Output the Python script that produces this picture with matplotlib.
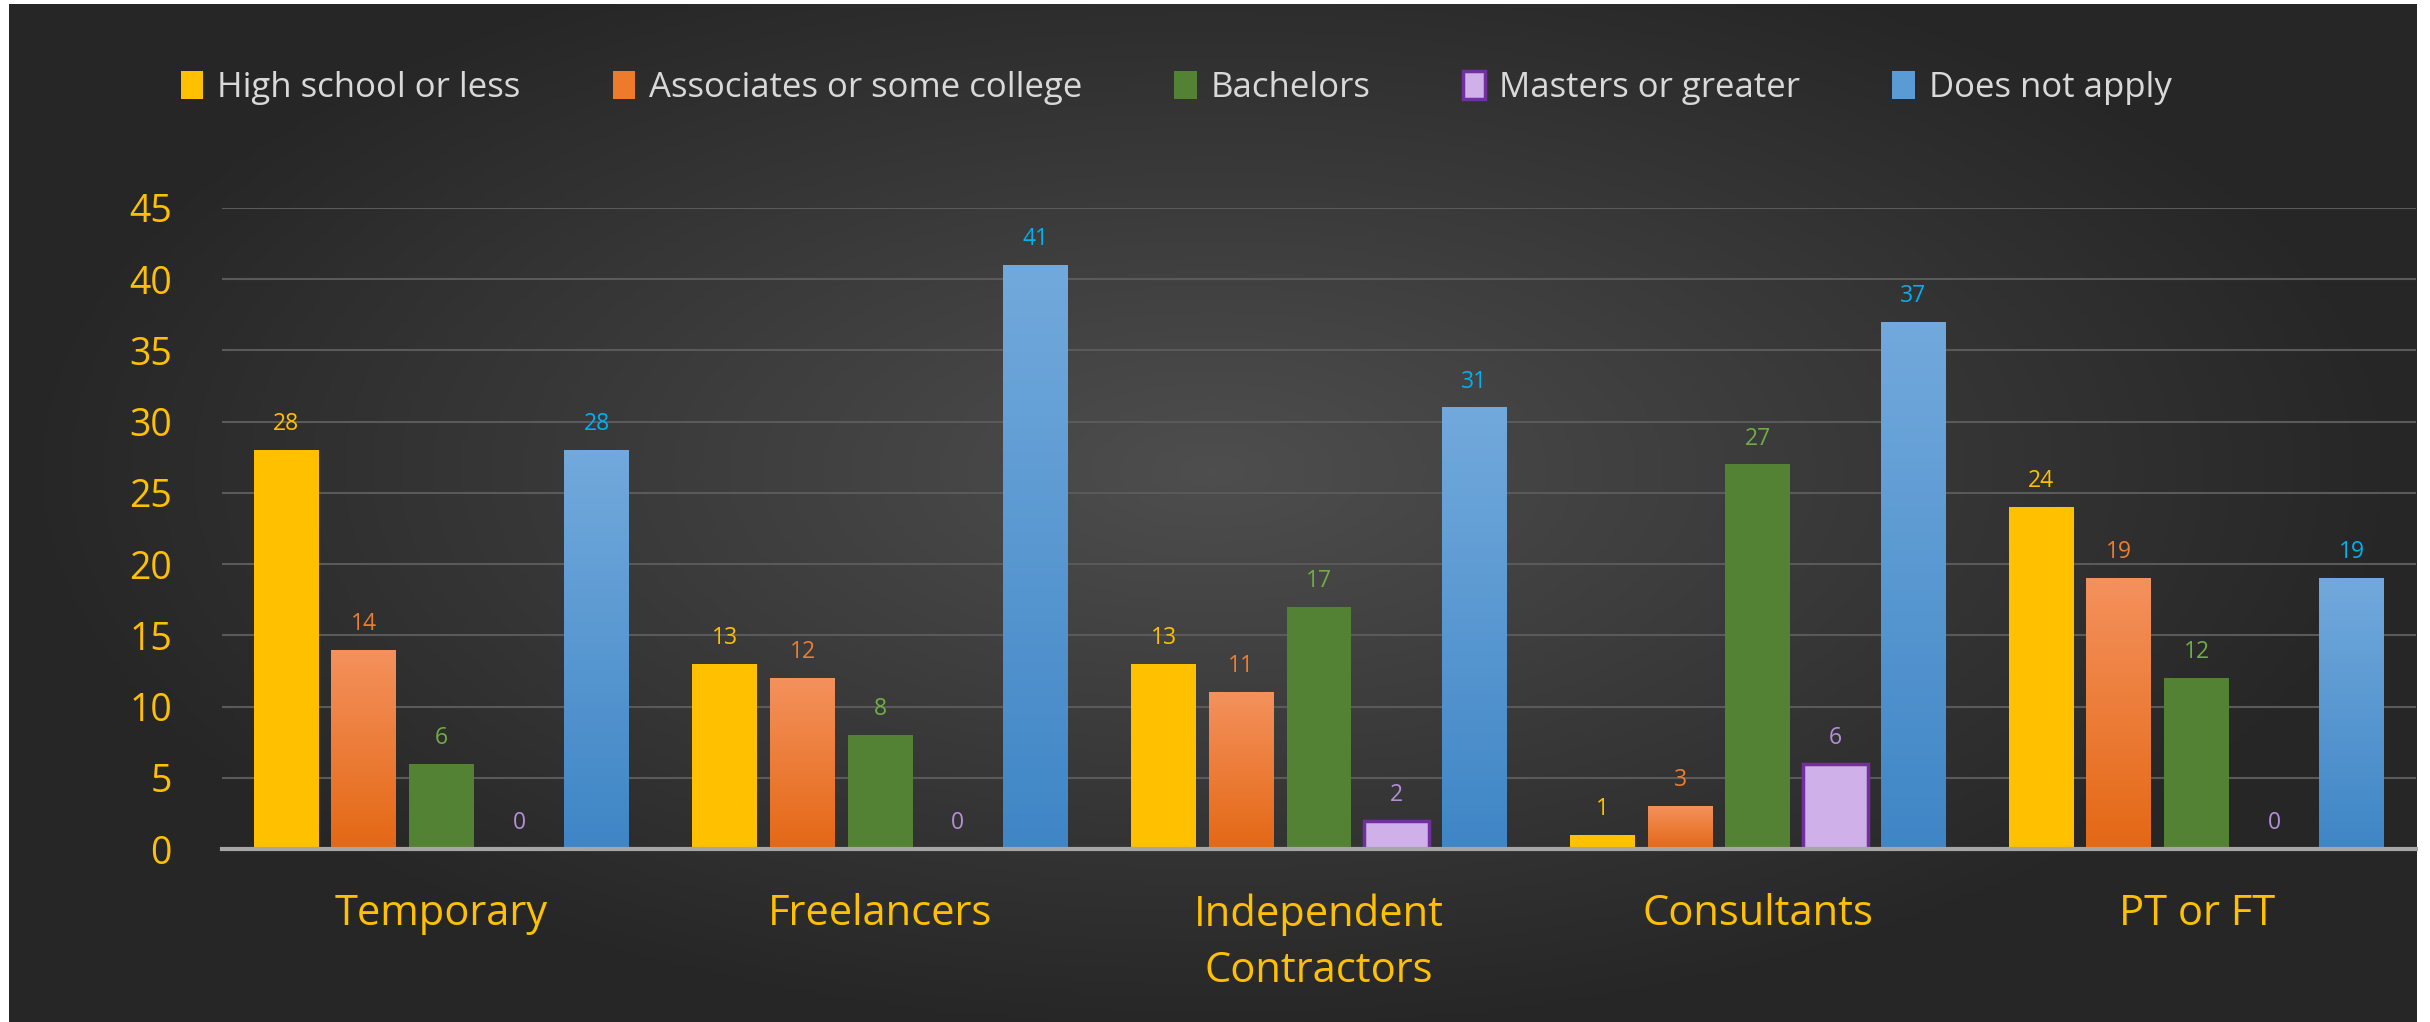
import matplotlib
matplotlib.use('Agg')
import matplotlib.pyplot as plt
import numpy as np
from matplotlib.colors import LinearSegmentedColormap

# данные
categories = ['Temporary', 'Freelancers', 'Independent\nContractors', 'Consultants', 'PT or FT']
series_names = ['High school or less', 'Associates or some college', 'Bachelors',
                'Masters or greater', 'Does not apply']
high_school = [28, 13, 13, 1, 24]
associates = [14, 12, 11, 3, 19]
bachelors = [6, 8, 17, 27, 12]
masters = [0, 0, 2, 6, 0]
not_apply = [28, 41, 31, 37, 19]
y_ticks = [0, 5, 10, 15, 20, 25, 30, 35, 40, 45]

series = [high_school, associates, bachelors, masters, not_apply]
fills = ['#FFC000', '#EE7A2C', '#548235', '#D0B0E8', '#5B9BD5']
edges = ['none', 'none', 'none', '#7030A0', 'none']
label_colors = ['#FFC000', '#ED7D31', '#70AD47', '#B48FD8', '#00B0F0']
# градиенты (верх -> низ)
gradients = {1: ('#F4915C', '#E46815'), 4: ('#72A9DC', '#3F86C6')}

plt.rcParams['font.family'] = ['Open Sans', 'DejaVu Sans']

fig = plt.figure(figsize=(24.3, 10.22), dpi=100)
fig.patch.set_facecolor('white')

# фон - тёмный радиальный градиент
bg = fig.add_axes([9 / 2430, -0.02, (2417 - 9) / 2430, 0.02 + (1022 - 4) / 1022])
bg.set_axis_off()
gx, gy = np.meshgrid(np.linspace(-1, 1, 600), np.linspace(-1, 1, 300))
r = np.sqrt((gx / 1.0) ** 2 + ((gy + 0.1) / 1.1) ** 2)
r = np.clip(r, 0, 1)
bg_cmap = LinearSegmentedColormap.from_list('bg', ['#4E4E4E', '#3A3A3A', '#262626'])
bg.imshow(r, cmap=bg_cmap, aspect='auto', extent=[0, 1, 0, 1], vmin=0, vmax=1)
bg.set_xlim(0, 1)
bg.set_ylim(0, 1)

ax = fig.add_axes([222 / 2430, 1 - 849 / 1022, (2416 - 222) / 2430, (849 - 208) / 1022])
ax.patch.set_alpha(0)

x = np.arange(len(categories))
pitch = 0.177
width = 0.148
offsets = (np.arange(len(series)) - 2) * pitch

for i, vals in enumerate(series):
    bars = ax.bar(x + offsets[i], vals, width, color=fills[i], edgecolor=edges[i],
                  linewidth=2.5 if edges[i] != 'none' else 0, label=series_names[i], zorder=3)
    if i in gradients:
        cmap = LinearSegmentedColormap.from_list('g%d' % i, [gradients[i][1], gradients[i][0]])
        for b in bars:
            h = b.get_height()
            if h <= 0:
                continue
            x0 = b.get_x()
            im = ax.imshow(np.linspace(0, 1, 100).reshape(-1, 1), cmap=cmap, origin='lower',
                           aspect='auto', extent=[x0, x0 + b.get_width(), 0, h], zorder=3.5)
            im.set_clip_path(b)
    for b, v in zip(bars, vals):
        ax.annotate(str(v), (b.get_x() + b.get_width() / 2, v), xytext=(0, 10),
                    textcoords='offset points', ha='center', va='bottom',
                    fontsize=16.5, color=label_colors[i], zorder=5)

ax.set_xlim(-0.5, len(categories) - 0.5)
ax.set_ylim(0, 45)
ax.set_yticks(y_ticks)
ax.set_yticklabels([str(t) for t in y_ticks])
ax.set_xticks(x)
ax.set_xticklabels(categories, linespacing=1.45)
ax.tick_params(axis='y', length=0, pad=36, labelsize=27, labelcolor='#FFC000')
ax.tick_params(axis='x', length=0, pad=32, labelsize=30, labelcolor='#FFC000')
ax.yaxis.grid(True, color='#5A5A5A', linewidth=1.5, zorder=0)
ax.set_axisbelow(True)
for s in ['top', 'right', 'left']:
    ax.spines[s].set_visible(False)
ax.spines['bottom'].set_color('#A6A6A6')
ax.spines['bottom'].set_linewidth(3)
ax.spines['bottom'].set_zorder(4)

leg = fig.legend(loc='center', bbox_to_anchor=(0.484, 0.914), ncol=5, frameon=False,
                 fontsize=25, handlelength=0.65, handleheight=0.85, handletextpad=0.4,
                 columnspacing=2.65)
for t in leg.get_texts():
    t.set_color('#D9D9D9')

fig.savefig('out.png', dpi=100, facecolor=fig.get_facecolor())
